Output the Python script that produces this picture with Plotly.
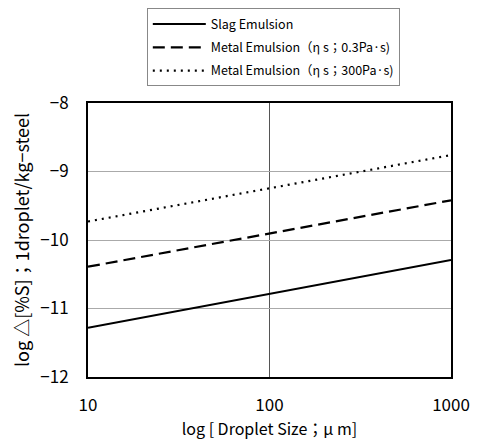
import plotly.graph_objects as go

droplet_size = [10, 100, 1000]
slag_emulsion = [-11.28, -10.78, -10.29]
metal_emulsion_03 = [-10.39, -9.90, -9.42]
metal_emulsion_300 = [-9.73, -9.25, -8.76]
x_ticks = [10, 100, 1000]
y_ticks = [-12, -11, -10, -9, -8]
y_ticklabels = ["−12", "−11", "−10", "−9", "−8"]

FONT = "Noto Sans CJK JP, Noto Sans, sans-serif"

fig = go.Figure()
fig.add_trace(go.Scatter(x=droplet_size, y=slag_emulsion, mode="lines",
                         name="Slag Emulsion", legendgroup="a",
                         line=dict(color="black", width=2, dash="solid")))
fig.add_trace(go.Scatter(x=droplet_size, y=metal_emulsion_03, mode="lines",
                         name="Metal Emulsion（η s；0.3Pa·s)", legendgroup="b",
                         line=dict(color="black", width=2.2, dash="12px,6px")))
fig.add_trace(go.Scatter(x=droplet_size, y=metal_emulsion_300, mode="lines",
                         name="Metal Emulsion（η s；300Pa·s)", legendgroup="c",
                         line=dict(color="black", width=2.2, dash="2px,5px")))

# page body has an 8px margin, so the figure is sized to fit the 479x445 window
fig.update_layout(
    width=471, height=437,
    margin=dict(l=80, r=28, t=95, b=68, autoexpand=False),
    paper_bgcolor="white", plot_bgcolor="white",
    font=dict(family=FONT, color="black", size=16),
    showlegend=True,
    legend=dict(x=0.162, y=1.345, xanchor="left", yanchor="top",
                bordercolor="#888888", borderwidth=1,
                font=dict(size=12.5, family=FONT),
                itemwidth=53, tracegroupgap=4,
                bgcolor="white"),
    xaxis=dict(type="log", range=[1, 3], tickvals=x_ticks,
               ticktext=[str(v) for v in x_ticks],
               showgrid=True, gridcolor="#555555", gridwidth=0.8,
               showline=True, linecolor="black", linewidth=2, mirror=True,
               ticks="", ticklabelstandoff=12, zeroline=False,
               tickfont=dict(size=17),
               title=dict(text="log [ Droplet Size；μ m]", font=dict(size=16), standoff=4)),
    yaxis=dict(range=[-12, -8], tickvals=y_ticks, ticktext=y_ticklabels,
               showgrid=True, gridcolor="#aaaaaa", gridwidth=1,
               showline=True, linecolor="black", linewidth=2, mirror=True,
               ticks="", ticklabelstandoff=14, zeroline=False,
               tickfont=dict(size=17),
               title=dict(text="log △[%S]；1droplet/kg−steel", font=dict(size=18), standoff=8)),
)

fig.write_html("out.html")
